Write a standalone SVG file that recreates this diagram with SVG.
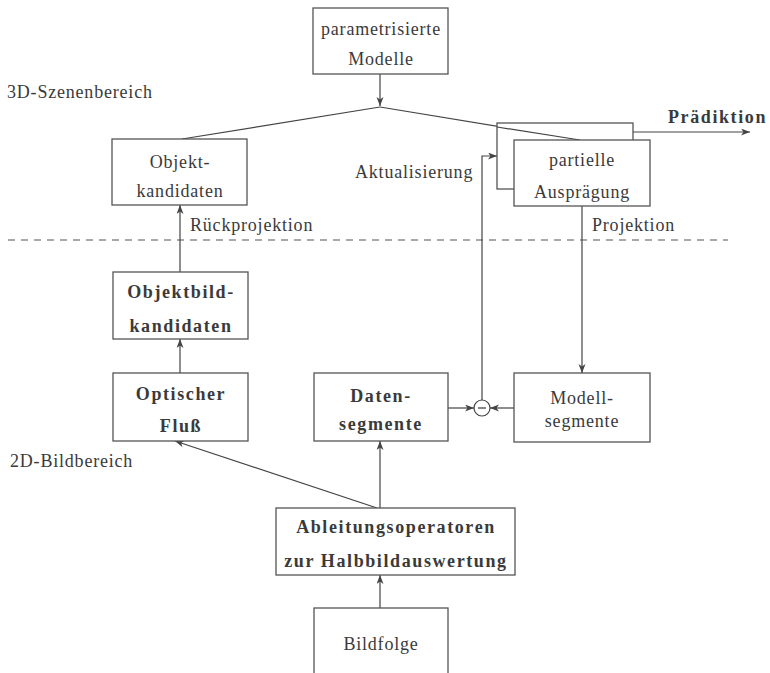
<svg xmlns="http://www.w3.org/2000/svg" width="770" height="673" viewBox="0 0 770 673">
  <defs>
    <marker id="arr" markerUnits="userSpaceOnUse" markerWidth="12" markerHeight="10" refX="9" refY="3.5" orient="auto">
      <path d="M0,0 L9,3.5 L0,7 L2.5,3.5 z" fill="#444"/>
    </marker>
  </defs>
  <style>
    .box { fill: #fff; stroke: #555; stroke-width: 1.3; }
    .ln { fill: none; stroke: #444; stroke-width: 1.2; }
    .t { font-family: "Liberation Serif", "Times New Roman", serif; font-size: 18px; fill: #3a3a3a; letter-spacing: 0.8px; }
    .c { text-anchor: middle; }
    .b { font-weight: bold; letter-spacing: 1.6px; }
  </style>
  <rect width="770" height="673" fill="#fff"/>

  <!-- region labels and separator -->
  <g id="regions">
    <text class="t" x="7" y="98">3D-Szenenbereich</text>
    <text class="t" x="10" y="467">2D-Bildbereich</text>
    <line x1="8" y1="240" x2="728" y2="240" stroke="#555" stroke-width="1.2" stroke-dasharray="7 6"/>
  </g>

  <!-- connectors -->
  <g id="connectors">
    <path class="ln" d="M380,74 V106" marker-end="url(#arr)"/>
    <path class="ln" d="M380,107 L182,139"/>
    <path class="ln" d="M380,107 L580,140" marker-end="url(#arr)"/>
    <path class="ln" d="M633,132 H750" marker-end="url(#arr)"/>
    <path class="ln" d="M582,206 V373" marker-end="url(#arr)"/>
    <path class="ln" d="M180,272 V205" marker-end="url(#arr)"/>
    <path class="ln" d="M180,373 V339" marker-end="url(#arr)"/>
    <path class="ln" d="M377,508 L175,441" marker-end="url(#arr)"/>
    <path class="ln" d="M380,508 V441" marker-end="url(#arr)"/>
    <path class="ln" d="M380,608 V575" marker-end="url(#arr)"/>
    <path class="ln" d="M448,408 H474" marker-end="url(#arr)"/>
    <path class="ln" d="M514,408 H490" marker-end="url(#arr)"/>
    <path class="ln" d="M482,400 V156 H497" marker-end="url(#arr)"/>
    <text class="t" x="190" y="231">Rückprojektion</text>
    <text class="t" x="592" y="231">Projektion</text>
    <text class="t" x="355" y="178">Aktualisierung</text>
    <text class="t b" x="668" y="123">Prädiktion</text>
  </g>

  <g id="parametrisierte-modelle">
    <rect class="box" x="313" y="8" width="135" height="66"/>
    <text class="t c" x="381" y="35">parametrisierte</text>
    <text class="t c" x="381" y="65">Modelle</text>
  </g>

  <g id="objektkandidaten">
    <rect class="box" x="112" y="139" width="135" height="66"/>
    <text class="t c" x="180" y="168">Objekt-</text>
    <text class="t c" x="180" y="197">kandidaten</text>
  </g>

  <g id="partielle-auspraegung">
    <rect class="box" x="497" y="123" width="136" height="66"/>
    <path class="ln" d="M497,127 L580,140"/>
    <rect class="box" x="514" y="140" width="136" height="66"/>
    <text class="t c" x="582" y="166">partielle</text>
    <text class="t c" x="582" y="198">Ausprägung</text>
  </g>

  <g id="objektbildkandidaten">
    <rect class="box" x="113" y="272" width="135" height="67"/>
    <text class="t b c" x="181" y="298">Objektbild-</text>
    <text class="t b c" x="181" y="332">kandidaten</text>
  </g>

  <g id="optischer-fluss">
    <rect class="box" x="113" y="373" width="135" height="68"/>
    <text class="t b c" x="181" y="400">Optischer</text>
    <text class="t b c" x="181" y="432">Fluß</text>
  </g>

  <g id="datensegmente">
    <rect class="box" x="314" y="373" width="134" height="68"/>
    <text class="t b c" x="381" y="402">Daten-</text>
    <text class="t b c" x="381" y="430">segmente</text>
  </g>

  <g id="differenz">
    <circle cx="482" cy="408" r="8" fill="#fff" stroke="#444" stroke-width="1.2"/>
    <line x1="478" y1="408" x2="486" y2="408" stroke="#444" stroke-width="1.3"/>
  </g>

  <g id="modellsegmente">
    <rect class="box" x="514" y="373" width="136" height="69"/>
    <text class="t c" x="582" y="404">Modell-</text>
    <text class="t c" x="582" y="427">segmente</text>
  </g>

  <g id="ableitungsoperatoren">
    <rect class="box" x="276" y="508" width="239" height="67"/>
    <text class="t b c" x="396" y="533">Ableitungsoperatoren</text>
    <text class="t b c" x="396" y="567">zur Halbbildauswertung</text>
  </g>

  <g id="bildfolge">
    <rect class="box" x="314" y="608" width="134" height="68"/>
    <text class="t c" x="381" y="650">Bildfolge</text>
  </g>
</svg>
